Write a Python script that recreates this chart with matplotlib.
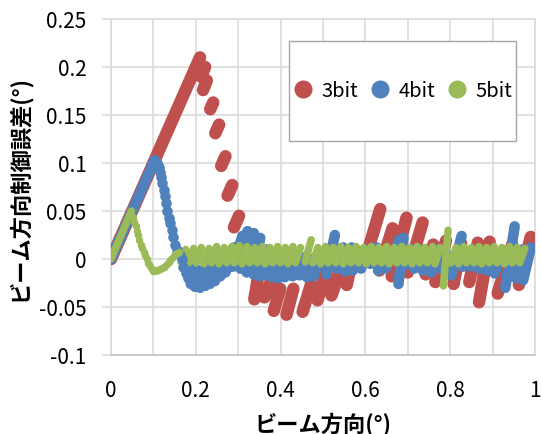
import numpy as np
import matplotlib
matplotlib.use("Agg")
import matplotlib.pyplot as plt
from matplotlib.patches import Rectangle
from matplotlib.lines import Line2D

plt.rcParams['font.family'] = ['Noto Sans CJK JP', 'DejaVu Sans']

# series colours (Excel palette)
red = '#C0504D'
blue = '#4F81BD'
green = '#9BBB59'

series_names = ['3bit', '4bit', '5bit']

# each dash: (x start, y start, x end, y end)
red_dashes = [
    (0.0, 0.0, 0.21, 0.21),
    (0.212, 0.19, 0.222, 0.2), (0.217, 0.176, 0.226, 0.186),
    (0.234, 0.156, 0.241, 0.163), (0.246, 0.131, 0.255, 0.140),
    (0.260, 0.097, 0.270, 0.107), (0.275, 0.066, 0.286, 0.077),
    (0.290, 0.033, 0.302, 0.045), (0.306, 0.001, 0.318, 0.018),
    (0.322, -0.008, 0.336, 0.018), (0.338, -0.042, 0.352, -0.005),
    (0.362, -0.040, 0.382, -0.018), (0.384, -0.054, 0.399, -0.031),
    (0.414, -0.058, 0.430, -0.031), (0.452, -0.055, 0.472, -0.026),
    (0.487, -0.043, 0.508, -0.013), (0.520, -0.038, 0.544, -0.007),
    (0.556, -0.027, 0.574, 0.010), (0.598, -0.003, 0.635, 0.052),
    (0.633, -0.012, 0.664, 0.032), (0.662, -0.018, 0.697, 0.043),
    (0.700, -0.014, 0.735, 0.038), (0.742, -0.016, 0.760, 0.015),
    (0.765, -0.024, 0.790, 0.019), (0.808, -0.026, 0.826, 0.016),
    (0.845, -0.024, 0.865, 0.017), (0.868, -0.045, 0.893, 0.018),
    (0.912, -0.036, 0.946, 0.015), (0.962, -0.027, 0.990, 0.023),
]

blue_dashes = [
    (0.0, 0.0, 0.103, 0.103),
    (0.178, -0.012, 0.190, -0.002), (0.188, -0.026, 0.200, -0.010),
    (0.198, -0.029, 0.212, -0.012), (0.210, -0.030, 0.224, -0.012),
    (0.222, -0.028, 0.236, -0.008), (0.233, -0.026, 0.248, -0.005),
    (0.245, -0.023, 0.262, 0.000), (0.258, -0.018, 0.275, 0.006),
    (0.270, -0.014, 0.290, 0.012), (0.287, -0.008, 0.310, 0.024),
    (0.305, -0.010, 0.322, 0.029), (0.320, -0.014, 0.337, 0.027),
    (0.336, -0.016, 0.352, 0.022), (0.350, -0.018, 0.365, 0.010),
    (0.365, -0.017, 0.378, 0.004), (0.380, -0.019, 0.392, 0.000),
    (0.395, -0.020, 0.408, 0.000), (0.410, -0.019, 0.425, 0.006),
    (0.428, -0.018, 0.442, 0.004), (0.445, -0.017, 0.458, 0.002),
    (0.462, -0.019, 0.475, 0.000), (0.478, -0.018, 0.492, 0.002),
    (0.508, -0.016, 0.528, 0.025), (0.532, -0.010, 0.548, 0.012),
    (0.552, -0.013, 0.568, 0.012), (0.570, -0.012, 0.585, 0.008),
    (0.590, -0.010, 0.605, 0.010), (0.612, -0.005, 0.627, 0.012),
    (0.630, -0.012, 0.645, 0.006), (0.648, -0.010, 0.660, 0.004),
    (0.662, 0.000, 0.680, 0.020), (0.678, -0.026, 0.690, 0.022),
    (0.695, -0.006, 0.710, 0.010), (0.715, -0.010, 0.730, 0.010),
    (0.735, -0.012, 0.750, 0.008), (0.755, -0.014, 0.770, 0.010),
    (0.775, -0.010, 0.790, 0.006), (0.803, -0.017, 0.827, 0.024),
    (0.830, -0.008, 0.845, 0.008), (0.850, -0.008, 0.865, 0.006),
    (0.868, -0.010, 0.882, 0.006), (0.885, -0.012, 0.900, 0.006),
    (0.905, -0.015, 0.915, 0.000), (0.930, -0.030, 0.952, 0.034),
    (0.955, -0.020, 0.970, 0.010), (0.972, -0.022, 0.990, 0.012),
]

blue_dot_x = [0.108, 0.113, 0.116, 0.119, 0.121, 0.124, 0.127, 0.130, 0.133, 0.136,
              0.139, 0.143, 0.146, 0.150, 0.155, 0.162, 0.167, 0.170, 0.176, 0.182, 0.188]
blue_dot_y = [0.100, 0.096, 0.091, 0.085, 0.079, 0.072, 0.066, 0.058, 0.050, 0.043,
              0.037, 0.030, 0.023, 0.015, 0.009, 0.004, 0.000, -0.008, -0.015, -0.020, -0.025]

green_dashes = [
    (0.0, 0.0, 0.048, 0.050),
    (0.165, -0.003, 0.176, 0.010), (0.183, -0.004, 0.195, 0.011),
    (0.201, -0.004, 0.213, 0.012), (0.219, -0.005, 0.231, 0.011),
    (0.237, -0.004, 0.249, 0.013), (0.255, -0.005, 0.267, 0.012),
    (0.273, -0.004, 0.285, 0.013), (0.291, -0.004, 0.303, 0.014),
    (0.309, -0.005, 0.321, 0.013), (0.327, -0.004, 0.339, 0.012),
    (0.345, -0.004, 0.357, 0.013), (0.363, -0.005, 0.375, 0.012),
    (0.381, -0.004, 0.393, 0.013), (0.399, -0.004, 0.411, 0.012),
    (0.417, -0.005, 0.429, 0.013), (0.435, -0.004, 0.447, 0.012),
    (0.458, -0.003, 0.472, 0.020), (0.476, -0.004, 0.488, 0.012),
    (0.494, -0.005, 0.506, 0.013), (0.512, -0.004, 0.524, 0.012),
    (0.530, -0.004, 0.542, 0.013), (0.548, -0.005, 0.560, 0.012),
    (0.566, -0.004, 0.578, 0.013), (0.584, -0.004, 0.596, 0.012),
    (0.602, -0.005, 0.614, 0.013), (0.620, -0.004, 0.632, 0.012),
    (0.638, -0.004, 0.650, 0.013), (0.656, -0.005, 0.668, 0.012),
    (0.674, -0.004, 0.686, 0.013), (0.692, -0.004, 0.704, 0.012),
    (0.710, -0.005, 0.722, 0.013), (0.728, -0.004, 0.740, 0.012),
    (0.746, -0.004, 0.758, 0.013), (0.764, -0.005, 0.776, 0.012),
    (0.784, -0.028, 0.795, 0.030), (0.802, -0.004, 0.814, 0.012),
    (0.820, -0.005, 0.832, 0.013), (0.838, -0.004, 0.850, 0.012),
    (0.856, -0.004, 0.868, 0.013), (0.874, -0.005, 0.886, 0.012),
    (0.892, -0.004, 0.904, 0.013), (0.910, -0.004, 0.922, 0.012),
    (0.928, -0.005, 0.940, 0.013), (0.946, -0.004, 0.958, 0.012),
    (0.964, -0.004, 0.976, 0.011),
]

green_dot_x = [0.052, 0.055, 0.058, 0.061, 0.064, 0.067, 0.070, 0.073, 0.077, 0.080,
               0.084, 0.088, 0.092, 0.096, 0.100, 0.104, 0.108, 0.112, 0.116, 0.120,
               0.124, 0.128, 0.132, 0.136, 0.140, 0.144, 0.148, 0.152, 0.156, 0.160]
green_dot_y = [0.044, 0.039, 0.034, 0.029, 0.025, 0.020, 0.015, 0.011, 0.007, 0.004,
               0.000, -0.004, -0.007, -0.010, -0.012, -0.012, -0.011, -0.011, -0.010, -0.009,
               -0.008, -0.007, -0.005, -0.003, -0.001, 0.001, 0.003, 0.005, 0.006, 0.007]

y_ticks = [-0.1, -0.05, 0, 0.05, 0.1, 0.15, 0.2, 0.25]
y_tick_labels = ['-0.1', '-0.05', '0', '0.05', '0.1', '0.15', '0.2', '0.25']
x_ticks = [0, 0.2, 0.4, 0.6, 0.8, 1]
x_tick_labels = ['0', '0.2', '0.4', '0.6', '0.8', '1']


def dash_path(dashes):
    xs, ys = [], []
    for x0, y0, x1, y1 in dashes:
        xs += [x0, x1, np.nan]
        ys += [y0, y1, np.nan]
    return np.array(xs), np.array(ys)


fig = plt.figure(figsize=(5.41, 4.35), dpi=100)
ax = fig.add_axes([111 / 541, 79 / 435, 424 / 541, 336 / 435])

grid_c = '#D9D9D9'
ax.set_xlim(0, 1)
ax.set_ylim(-0.1, 0.25)
ax.set_xticks(np.arange(0, 1.01, 0.1), minor=True)
ax.set_xticks(x_ticks)
ax.set_xticklabels(x_tick_labels)
ax.set_yticks(y_ticks)
ax.set_yticklabels(y_tick_labels)
ax.grid(True, which='both', color=grid_c, lw=1.1)
ax.set_axisbelow(True)
for s in ax.spines.values():
    s.set_color(grid_c)
    s.set_linewidth(1.1)
ax.spines['bottom'].set_color('#BFBFBF')
ax.tick_params(axis='y', which='both', length=6.5, width=1.1, color=grid_c,
               pad=11, labelsize=15)
ax.tick_params(axis='x', which='both', length=0, pad=17, labelsize=15)

widths = {'3bit': 9.0, '4bit': 7.6, '5bit': 5.4}
for name, col, dashes in [('3bit', red, red_dashes), ('4bit', blue, blue_dashes),
                          ('5bit', green, green_dashes)]:
    px, py = dash_path(dashes)
    ax.plot(px, py, '-', color=col, lw=widths[name], solid_capstyle='round',
            solid_joinstyle='round', zorder=3)

ax.plot(blue_dot_x, blue_dot_y, 'o', color=blue, ms=widths['4bit'], mew=0, zorder=3)
ax.plot(green_dot_x, green_dot_y, 'o', color=green, ms=widths['5bit'], mew=0, zorder=3)

# legend box
ax.add_patch(Rectangle((0.4198, 0.637), 0.5352, 0.2975, transform=ax.transAxes,
                       facecolor='white', edgecolor='#A6A6A6', lw=1.0, zorder=5))
handles = [Line2D([], [], ls='', marker='o', ms=13, mew=0, color=c)
           for c in [red, blue, green]]
ax.legend(handles, series_names, loc='center', bbox_to_anchor=(0.6875, 0.786),
          ncol=3, frameon=False, fontsize=14.5, handlelength=1.0, handletextpad=0.4,
          columnspacing=0.6).set_zorder(6)

ax.set_xlabel('ビーム方向(°)', fontsize=16, fontweight='bold', labelpad=8)
ax.set_ylabel('ビーム方向制御誤差(°)', fontsize=16, fontweight='bold', labelpad=6)

fig.savefig('out.png', dpi=100)
